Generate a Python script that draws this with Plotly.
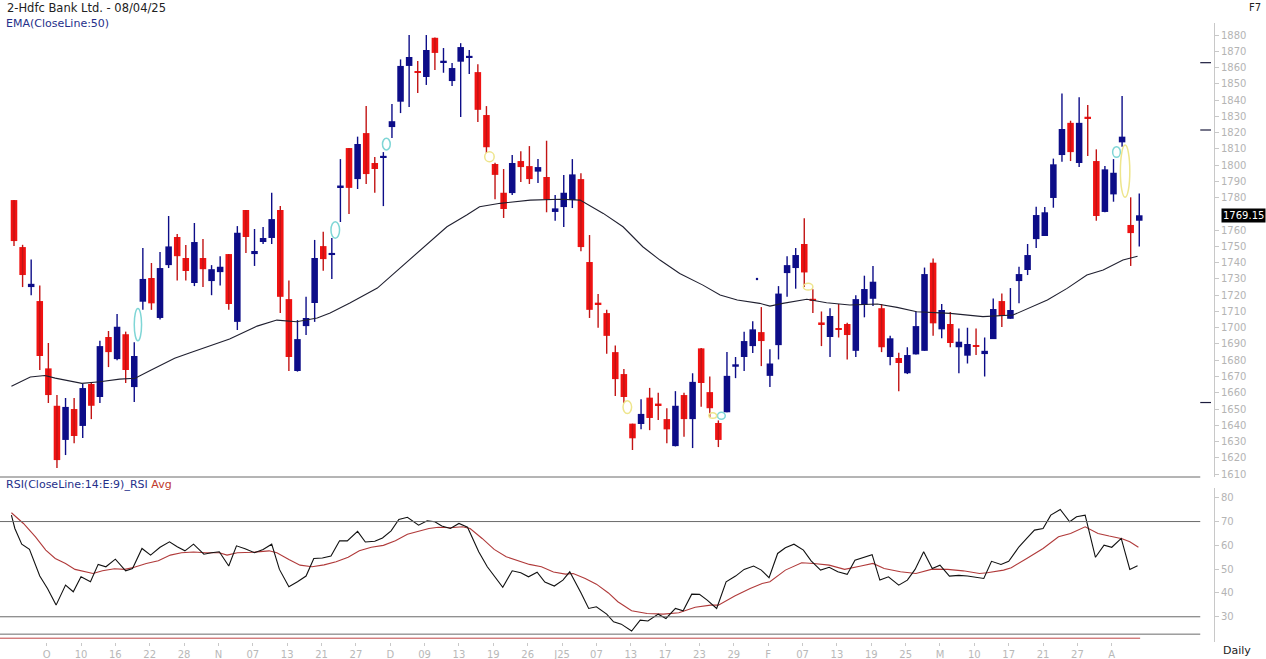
import plotly.graph_objects as go

# ---------------- data ----------------
opens = [1778.5, 1749.6, 1725, 1716.4, 1675, 1652, 1631, 1650, 1639.6, 1665.4,
         1657.4, 1694.3, 1680.7, 1696, 1663.5, 1716, 1730.6, 1706, 1738.5, 1755.8,
         1742.9, 1727.5, 1742.9, 1728.7, 1734.2, 1745.3, 1703.6, 1772.4, 1745.3, 1752.7,
         1755.2, 1772.4, 1717.6, 1673.4, 1701, 1715.2, 1750.2, 1744.7, 1786.7, 1810.5,
         1791.4, 1819.7, 1801.3, 1805, 1823.4, 1839, 1861, 1857.6, 1854.2, 1878.3,
         1862.8, 1851.7, 1863.6, 1866.5, 1857.2, 1830.8, 1800.7, 1783, 1782.8, 1802.5,
         1799.4, 1796, 1792.7, 1771.2, 1774.2, 1778.5, 1791.4, 1740.4, 1715.2, 1709,
         1685, 1671.5, 1641, 1640.8, 1657, 1653.1, 1643.8, 1627.2, 1658.6, 1643.8,
         1687.3, 1660.4, 1641.4, 1648, 1676, 1682, 1688.7, 1697.3, 1670.4, 1689.3,
         1733.6, 1736.7, 1751.5, 1717.6, 1703, 1694.3, 1699.6, 1702.3, 1685.8, 1714,
         1717.8, 1712, 1682, 1681.4, 1672, 1683.6, 1685.8, 1740, 1699, 1702.3,
         1688, 1682.8, 1689, 1683.8, 1693, 1716.4, 1705.5, 1728.7, 1735.5, 1754.5,
         1756.4, 1779.8, 1806.2, 1826, 1801.3, 1829.5, 1802.5, 1771.2, 1782, 1814,
         1763.2, 1765.8]
highs = [1778.5, 1751, 1742, 1726, 1690.6, 1658.6, 1656.8, 1656.8, 1665.4, 1666,
         1692, 1698, 1708.4, 1697.6, 1691, 1749, 1739.8, 1746.6, 1768.7, 1757.6,
         1750.8, 1764.4, 1754.5, 1738.5, 1744, 1745.3, 1762.5, 1772.4, 1760.7, 1762,
         1783, 1774.8, 1729, 1704.7, 1719, 1754, 1759, 1755.2, 1803.7, 1810.5,
         1817.5, 1836.3, 1805, 1808, 1837.6, 1865, 1880, 1864, 1880, 1878.5,
         1872, 1862.8, 1875, 1870.8, 1862, 1836.3, 1801.5, 1797.6, 1806.2, 1808.6,
         1811.7, 1803.7, 1815, 1781.6, 1794, 1803.7, 1795, 1757, 1720.7, 1711,
         1689, 1674.6, 1641, 1656, 1663, 1660, 1650.5, 1661, 1660, 1672,
         1687.5, 1670, 1643, 1685, 1682, 1697.5, 1704, 1712.7, 1686.7, 1725.6,
         1744, 1749, 1767.4, 1723.6, 1710, 1712, 1714.6, 1703, 1720, 1732,
         1738, 1714.6, 1695, 1684.6, 1688, 1709.7, 1737, 1742.6, 1714.6, 1709.7,
         1699.6, 1700, 1699.6, 1694, 1718, 1721, 1724.4, 1737.5, 1751.5, 1774.4,
         1774.2, 1804, 1844, 1827.3, 1841.8, 1837, 1809.7, 1799.4, 1803.7, 1842.5,
         1780.2, 1782.6]
lows = [1750.2, 1725, 1720, 1674, 1653.7, 1613.7, 1621.7, 1629, 1632.2, 1643.8,
        1653.7, 1675.8, 1680, 1666, 1654.3, 1711, 1711, 1705, 1736.7, 1729,
        1729, 1725.6, 1725, 1720, 1726, 1711, 1698.6, 1746, 1738, 1751.5,
        1751.5, 1709, 1673.4, 1673, 1695.5, 1703.6, 1735, 1730, 1765, 1770,
        1785.3, 1788.4, 1783, 1774.8, 1816.7, 1832, 1835.7, 1844.3, 1849.3, 1858.5,
        1856.8, 1848.6, 1829.6, 1856, 1826.5, 1807.4, 1779, 1767.5, 1781.6, 1789.6,
        1788.4, 1789, 1771, 1765.8, 1762, 1773.6, 1747, 1706, 1700, 1684,
        1658, 1653.7, 1624.8, 1637.5, 1637, 1643.2, 1629, 1627, 1633, 1626,
        1651.4, 1645, 1626.6, 1648, 1669, 1673.4, 1684.4, 1676.4, 1663.5, 1680.5,
        1719, 1724, 1725, 1709, 1688.7, 1682, 1694, 1680.5, 1682, 1706.4,
        1713.3, 1685, 1677, 1661, 1671.5, 1683.6, 1685.8, 1695, 1693.5, 1688,
        1672, 1678, 1683.2, 1670, 1693, 1700.4, 1705.5, 1715, 1732.4, 1749,
        1756.4, 1773.8, 1802, 1802.5, 1798.8, 1805.6, 1765.8, 1771, 1777.5, 1811.3,
        1738, 1750]
closes = [1753.3, 1732.4, 1727, 1682.6, 1658.6, 1618.6, 1651.3, 1633.4, 1662.9, 1652,
          1688.7, 1685, 1700.6, 1674, 1682.6, 1730, 1715, 1736.7, 1750, 1744,
          1734.9, 1752.7, 1736, 1736, 1737.5, 1714.6, 1758.4, 1755.8, 1747.2, 1755.2,
          1766.8, 1719, 1682, 1693, 1706, 1742.9, 1742.2, 1746, 1787.2, 1786,
          1813, 1794.5, 1797.6, 1805.4, 1827, 1861, 1866.5, 1857, 1870.8, 1869,
          1864.2, 1859.7, 1872.6, 1866.9, 1834, 1811, 1794, 1773, 1801.3, 1798.8,
          1791.4, 1798.8, 1779, 1773.4, 1783, 1794.3, 1749.6, 1711, 1714.6, 1695,
          1668.4, 1657.4, 1632, 1647, 1644.5, 1652.6, 1637.5, 1652, 1643.8, 1666.7,
          1666, 1650.5, 1631, 1670.4, 1677.5, 1691.8, 1699, 1691.8, 1678, 1721,
          1738.5, 1744.7, 1734, 1717, 1702.5, 1707.2, 1699, 1695.5, 1717.6, 1723.8,
          1728.3, 1688, 1693.5, 1678.3, 1683.2, 1701, 1733, 1702.7, 1710.9, 1690.6,
          1691.4, 1690, 1688.6, 1685.8, 1711.5, 1707.2, 1710.9, 1733, 1744.7, 1769.3,
          1771, 1800.5, 1822.2, 1808, 1826, 1829, 1768.7, 1797.4, 1795.3, 1817.5,
          1758.2, 1769.15]

ema_idx = [-0.3, 1.9, 3.6, 4.8, 7.9, 10, 12.3, 14.1, 15.8, 18.7, 20.5, 25.1, 28.3, 30.6,
           32.9, 35.3, 36.8, 39.1, 42.3, 43.8, 47.3, 50.4, 52.7, 54.2, 56.6, 60.1, 63.6,
           65.9, 68.6, 70.9, 73.2, 75.2, 77.5, 80.2, 82.2, 84.2, 86.8, 88, 89.5, 92.3,
           94.6, 97.3, 100.5, 102.8, 105.1, 109, 112.8, 116.3, 120.3, 122.6, 124.9,
           126.8, 129.1, 130.8]
ema_val = [1664, 1669.7, 1670.6, 1669, 1665.8, 1666.8, 1668.4, 1668.9, 1673.5, 1681.2,
           1684.6, 1693, 1701, 1704.7, 1703.7, 1706, 1709, 1715.2, 1724.4, 1731.3,
           1747.8, 1762.1, 1769.3, 1774.4, 1776.5, 1778.5, 1779, 1778.5, 1770.3, 1762.1,
           1749.8, 1741.6, 1733.4, 1726.2, 1720.1, 1717, 1715, 1713.3, 1715, 1717.5,
           1715.4, 1714, 1714.6, 1712.5, 1709.8, 1708.8, 1706.8, 1707.8, 1717, 1724.2,
           1732.4, 1735.5, 1741.6, 1744]

rsi_idx = [-0.3, 0.1, 0.9, 1.8, 3, 3.9, 4.9, 6, 6.9, 7.8, 8.9, 9.8, 10.7, 11.8, 13, 13.8,
           14.9, 15.9, 17, 18.1, 19, 19.9, 20.9, 22.1, 23, 23.9, 25, 25.9, 26.9, 28, 29,
           30, 30.9, 32, 33, 34, 34.9, 35.9, 36.9, 37.9, 38.8, 40, 40.9, 42, 42.9, 43.9,
           44.8, 45.8, 47.1, 48.1, 49, 49.8, 50.8, 51.8, 52.8, 54.1, 55.1, 56, 56.9, 58,
           59, 59.9, 60.9, 61.8, 62.9, 63.9, 64.7, 66, 66.9, 67.8, 69, 69.8, 70.7, 71.9,
           72.9, 73.8, 75, 75.9, 77, 77.9, 78.9, 79.8, 80.7, 81.8, 82.9, 84, 85, 86.1,
           87, 87.9, 88.9, 89.8, 90.8, 91.9, 92.8, 93.9, 94.9, 95.9, 97, 97.9, 99, 99.9,
           100.8, 101.8, 103, 104, 104.9, 105.9, 106.9, 107.8, 108.9, 110, 111, 112,
           112.9, 113.8, 114.9, 115.8, 117, 117.9, 118.8, 119.8, 120.7, 121.8, 122.9,
           123.7, 124.7, 125.9, 126.9, 127.8, 128.9, 129.9, 130.8]
rsi_val = [72.7, 67.1, 60.5, 58.3, 47.1, 41.9, 34.9, 43.3, 40.5, 46.8, 44.7, 52, 51, 54.2,
           49.3, 50.3, 58.7, 55.9, 59.2, 61.5, 59.4, 57.7, 60.5, 56.3, 56.9, 57.3, 51.3,
           59.8, 58.6, 56.9, 58.3, 60.5, 49.9, 42.6, 44.7, 47.1, 54.5, 54.7, 55.5, 61.9,
           61.9, 65.9, 61.4, 61.7, 63.1, 66.1, 70.9, 71.8, 68.5, 70.3, 69.9, 68.1, 67.1,
           69.2, 67.6, 57.3, 51, 46.8, 42.4, 49.3, 48.5, 46.8, 48.7, 44.6, 42.9, 45.4,
           48.9, 40.1, 33.5, 34.2, 31.1, 27.9, 26.9, 24, 28.6, 28.2, 31.1, 29.3, 33.5,
           32.5, 39.5, 39.4, 37, 33.5, 44.7, 47.1, 49.9, 51.3, 49.6, 46.4, 56.6, 59,
           60.5, 58, 53.5, 49.6, 50.8, 48.9, 47.8, 53.8, 55, 56.1, 45.4, 46.8, 43.3,
           45.4, 49.9, 57.3, 50.3, 51.7, 47.1, 47.4, 47.1, 46.6, 46.1, 53.3, 52, 53.3,
           59.4, 62.9, 66.4, 67.1, 72.7, 75.1, 69.9, 72, 72.7, 55, 60.1, 59.2, 62.9,
           49.9, 51.4]

avg_idx = [-0.3, 1.1, 2.5, 3.7, 4.8, 6, 7.1, 8.3, 9.2, 10.3, 11.7, 12.9, 14, 15.4, 16.8,
           18.2, 19.5, 20.9, 22.3, 23.9, 24.8, 26, 27.8, 29.7, 30.6, 32, 33.3, 34.7, 36.1,
           37.5, 38.9, 40.2, 41.6, 43, 44.4, 45.8, 47.1, 48.3, 49.4, 50.8, 52.2, 53.1,
           54.5, 55.9, 57.3, 58.6, 60, 61.4, 62.8, 64.2, 65.1, 66.5, 67.8, 69.2, 70.3,
           71.9, 73.7, 75.6, 77.4, 79.3, 81.1, 82, 83.9, 85.7, 87.1, 88, 89.8, 91.7,
           93.1, 94.9, 96.7, 98.6, 100, 101.3, 103.2, 105, 106.9, 108.7, 110.5, 112.4,
           113.3, 115.2, 116.1, 117.9, 119.8, 121.6, 123, 124.7, 126.2, 127.5, 129,
           129.9, 130.9]
avg_val = [73.7, 69.2, 63.6, 58, 54.5, 52.4, 49.9, 48.9, 48.2, 49.3, 50.2, 49.9, 50.8,
           52.4, 53.5, 55.9, 56.9, 57.2, 56.9, 56.9, 55.9, 56.9, 57.1, 57.7, 56.9, 54.1,
           51.7, 51, 51.8, 53.1, 55, 57.7, 59.2, 60, 61.9, 64.7, 66.1, 67.1, 67.6, 67.4,
           67.8, 67.1, 62.9, 58.3, 55.2, 53.5, 52, 51, 48.8, 47.9, 48.2, 46.1, 43.7, 40,
           36.3, 32.5, 31.4, 31.1, 31.7, 34, 34.9, 34.9, 38.7, 41.9, 44, 44.7, 49.6,
           52.7, 52.4, 51.7, 49.9, 51.3, 52.4, 50.3, 48.9, 48.2, 50, 49.9, 49.3, 48.2,
           48.5, 49.6, 50.6, 54.5, 58.7, 63.6, 65, 67.8, 65, 63.9, 62.8, 61.5, 59.2]

xtick_labels = ['O', '10', '16', '22', '28', 'N', '07', '13', '21', '27', 'D', '09',
                '13', '19', '26', 'J25', '07', '13', '17', '23', '29', 'F', '07', '13',
                '19', '25', 'M', '10', '17', '21', '27', 'A']
xtick_idx = [4 * (k + 1) - 0.2 for k in range(len(xtick_labels))]
# 1770 is hidden behind the last-price box in the reference
price_ticks = [v for v in range(1610, 1881, 10) if v != 1770]
rsi_ticks = [30, 40, 50, 60, 70, 80]
rsi_levels = [70, 30]
last_price = closes[-1]
pivot_marks = [1863, 1821.6, 1654]

# pattern ellipses: (x0, x1, y0, y1) in bar index / price units
cyan_marks = [(14.0, 14.85, 1692, 1711.9), (36.9, 37.9, 1755, 1765.2),
              (42.9, 43.8, 1809.3, 1816.5), (81.9, 82.8, 1643.7, 1648),
              (127.9, 128.8, 1804.8, 1811.3)]
yellow_marks = [(54.8, 55.9, 1802.1, 1808.2), (70.9, 71.9, 1647.3, 1655.1),
                (80.9, 81.8, 1644.3, 1647.7), (91.9, 93.0, 1723.2, 1727.3),
                (128.8, 129.9, 1780.2, 1812.3)]

# ---------------- figure ----------------
UP = '#0d0d88'
DN = '#f01212'
DN_WICK = '#c21414'
FONT = 'DejaVu Sans'
XR = [-1.63, 139.7]

n = len(closes)
fig = go.Figure()

for is_up, body_col, wick_col in [(True, UP, UP), (False, DN, DN_WICK)]:
    xs, hs, bs, wx, wy = [], [], [], [], []
    for i in range(n):
        o, h, l, c = opens[i], highs[i], lows[i], closes[i]
        if (c >= o) != is_up:
            continue
        body = abs(c - o)
        hh = max(body, 1.0)
        xs.append(i)
        hs.append(hh)
        bs.append(min(o, c) - (hh - body) / 2)
        wx += [i, i, None]
        wy += [l, h, None]
    fig.add_trace(go.Scatter(x=wx, y=wy, mode='lines', line=dict(color=wick_col, width=1.4),
                             hoverinfo='skip', showlegend=False, xaxis='x', yaxis='y'))
    fig.add_trace(go.Bar(x=xs, y=hs, base=bs, width=0.76, marker=dict(color=body_col, line=dict(width=0)),
                         hoverinfo='skip', showlegend=False, xaxis='x', yaxis='y'))

fig.add_trace(go.Scatter(x=ema_idx, y=ema_val, mode='lines', line=dict(color='#202030', width=1.1),
                         hoverinfo='skip', showlegend=False, xaxis='x', yaxis='y'))
fig.add_trace(go.Scatter(x=[86.5], y=[1730], mode='markers', marker=dict(color=UP, size=2.5),
                         hoverinfo='skip', showlegend=False, xaxis='x', yaxis='y'))

fig.add_trace(go.Scatter(x=avg_idx, y=avg_val, mode='lines', line=dict(color='#b03a3a', width=1.1),
                         hoverinfo='skip', showlegend=False, xaxis='x2', yaxis='y2'))
fig.add_trace(go.Scatter(x=rsi_idx, y=rsi_val, mode='lines', line=dict(color='#111111', width=1.1),
                         hoverinfo='skip', showlegend=False, xaxis='x2', yaxis='y2'))

shapes = []
# price panel bottom border
shapes.append(dict(type='line', xref='x', yref='y domain', x0=XR[0], x1=138.1, y0=0, y1=0,
                   line=dict(color='#6a6a6a', width=1)))
for lv in rsi_levels:
    shapes.append(dict(type='line', xref='x2', yref='y2', x0=XR[0], x1=138.1, y0=lv, y1=lv,
                       line=dict(color='#6a6a6a', width=1)))
shapes.append(dict(type='line', xref='x2', yref='y2', x0=XR[0], x1=138.1, y0=22.7, y1=22.7,
                   line=dict(color='#6a6a6a', width=1)))
shapes.append(dict(type='line', xref='x2', yref='y2', x0=XR[0], x1=131.1, y0=21.0, y1=21.0,
                   line=dict(color='#c04444', width=1)))
for pm in pivot_marks:
    shapes.append(dict(type='line', xref='x', yref='y', x0=138.1, x1=139.35, y0=pm, y1=pm,
                       line=dict(color='#1c1c3c', width=1.2)))
for (a, b, c, d) in cyan_marks:
    shapes.append(dict(type='circle', xref='x', yref='y', x0=a, x1=b, y0=c, y1=d,
                       line=dict(color='#7fd6d6', width=1.5)))
for (a, b, c, d) in yellow_marks:
    shapes.append(dict(type='circle', xref='x', yref='y', x0=a, x1=b, y0=c, y1=d,
                       line=dict(color='#eee58c', width=1.5)))

W, H = 1266, 659
PW = 1214
annotations = [
    dict(text='2-Hdfc Bank Ltd. - 08/04/25', xref='paper', yref='paper', x=5 / PW, y=1 - 8 / H,
         xanchor='left', yanchor='middle', showarrow=False, font=dict(family=FONT, size=11.5, color='#222222')),
    dict(text='EMA(CloseLine:50)', xref='paper', yref='paper', x=4 / PW, y=1 - 24 / H,
         xanchor='left', yanchor='middle', showarrow=False, font=dict(family=FONT, size=11, color='#25308a')),
    dict(text='F7', xref='paper', yref='paper', x=1255 / PW, y=1 - 8 / H,
         xanchor='center', yanchor='middle', showarrow=False, font=dict(family=FONT, size=10, color='#222222')),
    dict(text="RSI(CloseLine:14:E:9)_RSI <span style='color:#c0392b'>Avg</span>", xref='paper', yref='paper',
         x=4 / PW, y=1 - 484 / H, xanchor='left', yanchor='middle', showarrow=False,
         font=dict(family=FONT, size=11, color='#25308a')),
    dict(text='Daily', xref='paper', yref='paper', x=1237 / PW, y=1 - 650 / H,
         xanchor='center', yanchor='middle', showarrow=False, font=dict(family=FONT, size=11, color='#222222')),
    dict(text='%.2f' % last_price, xref='paper', yref='y', x=1243 / PW, y=last_price,
         xanchor='center', yanchor='middle', showarrow=False, bgcolor='#000000', borderpad=1,
         font=dict(family=FONT, size=10, color='#ffffff')),
]

axis_common = dict(showgrid=False, zeroline=False)
fig.update_layout(
    width=W, height=H,
    margin=dict(l=0, r=W - PW, t=0, b=0, autoexpand=False),
    paper_bgcolor='white', plot_bgcolor='white',
    barmode='overlay', showlegend=False, hovermode=False,
    font=dict(family=FONT),
    xaxis=dict(domain=[0, 1], range=XR, anchor='y', showticklabels=False, ticks='', **axis_common),
    xaxis2=dict(domain=[0, 1], range=XR, anchor='y2', tickmode='array', tickvals=xtick_idx,
                ticktext=xtick_labels, ticks='outside', ticklen=3, tickcolor='#c8c8c8',
                tickfont=dict(family=FONT, size=10, color='#b8b8b8'), showline=False, **axis_common),
    yaxis=dict(domain=[182 / H, 636 / H], range=[1608.2, 1887.4], anchor='x', side='right',
               tickmode='array', tickvals=price_ticks, ticks='outside', ticklen=4, tickcolor='#c8c8c8',
               showline=True, linecolor='#c8c8c8', linewidth=1,
               tickfont=dict(family=FONT, size=10, color='#b4b4b4'), **axis_common),
    yaxis2=dict(domain=[17 / H, 171 / H], range=[19.4, 84.1], anchor='x2', side='right',
                tickmode='array', tickvals=rsi_ticks, ticks='outside', ticklen=4, tickcolor='#c8c8c8',
                showline=True, linecolor='#c8c8c8', linewidth=1,
                tickfont=dict(family=FONT, size=10, color='#b4b4b4'), **axis_common),
    shapes=shapes,
    annotations=annotations,
)

fig.write_html('out.html', config={'displayModeBar': False},
               post_script="document.body.style.margin='0';document.body.style.padding='0';"
                           "document.body.style.overflow='hidden';")
